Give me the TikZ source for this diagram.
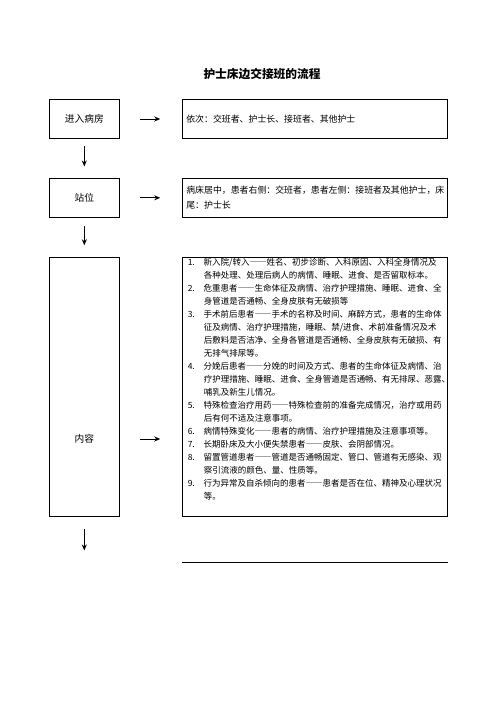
\documentclass[tikz,border=0pt]{standalone}
\usepackage{fontspec}
\setmainfont{Noto Sans CJK SC}
\usetikzlibrary{arrows.meta, positioning}

\newcommand{\itm}[1]{\makebox[16pt][l]{#1}}
\newcommand{\dsh}{{\addfontfeatures{CharacterWidth=Full}——}}

\begin{document}
\begin{tikzpicture}[x=1pt, y=-1pt,
    step box/.style={rectangle, draw, line width=0.9pt, minimum width=70pt, minimum height=38.6pt, inner sep=0pt, font=\fontsize{9.7}{12}\selectfont},
    info box/.style={rectangle, draw, line width=0.9pt, minimum width=265pt, minimum height=38.6pt, inner sep=4pt, font=\fontsize{8.9}{15}\selectfont},
    arrow/.style={-{Stealth[length=6pt, width=5pt]}, line width=0.8pt}
]
\useasboundingbox (0,0) rectangle (496,702);

\node[font=\fontsize{11.7}{14}\selectfont\bfseries] (title) at (262,74) {护士床边交接班的流程};

% left column
\node[step box] (enter) at (84.3,119) {进入病房};
\node[step box] (stand) at (84.3,197.8) {站位};
\node[step box, minimum height=259.4pt] (content) at (84.3,387) {};
\node[font=\fontsize{9.7}{12}\selectfont] (contentlabel) at (84.3,439) {内容};

% right column
\node[info box, text width=257pt, align=left] (order) at (314.8,119) {依次：交班者、护士长、接班者、其他护士};
\node[info box, text width=257pt, align=left] (place) at (314.8,197.8) {病床居中，患者右侧：交班者，患者左侧：接班者及其他护士，床\\尾：护士长};
\node[info box, minimum height=259.4pt] (items) at (314.8,387) {};
\node[anchor=north west, inner sep=0pt, align=left, font=\fontsize{8.5}{13}\selectfont] (itemtext) at ([xshift=5.7pt, yshift=-1pt]items.north west) {%
\itm{1.}新入院/转入\dsh 姓名、初步诊断、入科原因、入科全身情况及\\
\itm{}各种处理、处理后病人的病情、睡眠、进食、是否留取标本。\\
\itm{2.}危重患者\dsh 生命体征及病情、治疗护理措施、睡眠、进食、全\\
\itm{}身管道是否通畅、全身皮肤有无破损等\\
\itm{3.}手术前后患者\dsh 手术的名称及时间、麻醉方式，患者的生命体\\
\itm{}征及病情、治疗护理措施，睡眠、禁/进食、术前准备情况及术\\
\itm{}后敷料是否洁净、全身各管道是否通畅、全身皮肤有无破损、有\\
\itm{}无排气排尿等。\\
\itm{4.}分娩后患者\dsh 分娩的时间及方式、患者的生命体征及病情、治\\
\itm{}疗护理措施、睡眠、进食、全身管道是否通畅、有无排尿、恶露、\\
\itm{}哺乳及新生儿情况。\\
\itm{5.}特殊检查治疗用药\dsh 特殊检查前的准备完成情况，治疗或用药\\
\itm{}后有何不适及注意事项。\\
\itm{6.}病情特殊变化\dsh 患者的病情、治疗护理措施及注意事项等。\\
\itm{7.}长期卧床及大小便失禁患者\dsh 皮肤、会阴部情况。\\
\itm{8.}留置管道患者\dsh 管道是否通畅固定、管口、管道有无感染、观\\
\itm{}察引流液的颜色、量、性质等。\\
\itm{9.}行为异常及自杀倾向的患者\dsh 患者是否在位、精神及心理状况\\
\itm{}等。};

% arrows
\draw[arrow] ([xshift=20pt]enter.east) -- ([xshift=-21.6pt]order.west);
\draw[arrow] ([xshift=20pt]stand.east) -- ([xshift=-21.6pt]place.west);
\draw[arrow] ([xshift=20pt]contentlabel.east -| content.east) -- ([xshift=-21.6pt]contentlabel.east -| items.west);
\draw[arrow] ([yshift=-7.4pt]enter.south) -- ([yshift=11.6pt]stand.north);
\draw[arrow] ([yshift=-8.4pt]stand.south) -- ([yshift=11.6pt]content.north);
\coordinate (next) at ([yshift=-33.3pt]content.south);
\draw[arrow] ([yshift=-11.6pt]content.south) -- (next);

% closing rule
\draw[line width=0.9pt] ([yshift=-45.6pt]items.south west) -- ([yshift=-45.6pt]items.south east);

\end{tikzpicture}
\end{document}
